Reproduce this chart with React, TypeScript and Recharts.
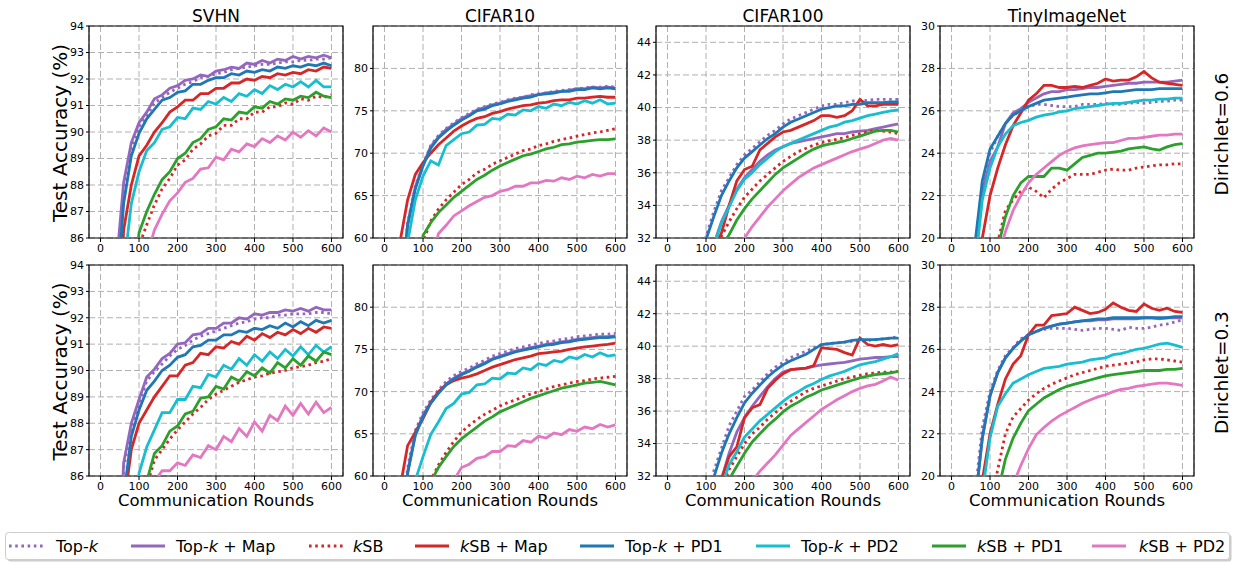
import React from 'react';
import { LineChart, Line, XAxis, YAxis, CartesianGrid, ReferenceArea } from 'recharts';

const FONT = '"DejaVu Sans", Verdana, sans-serif';

const rounds = [0, 20, 40, 60, 80, 100, 120, 140, 160, 180, 200, 220, 240, 260, 280, 300, 320, 340, 360, 380, 400, 420, 440, 460, 480, 500, 520, 540, 560, 580, 600];
const xTicks = [0, 100, 200, 300, 400, 500, 600];

// ---- Dirichlet = 0.6 ----
// SVHN
const s6_topk = [40, 60, 84.3, 87.8, 89.4, 90.2, 90.6, 91.1, 91.3, 91.5, 91.65, 91.8, 91.9, 92.05, 92.1, 92.2, 92.25, 92.35, 92.4, 92.45, 92.5, 92.55, 92.55, 92.6, 92.65, 92.65, 92.7, 92.7, 92.75, 92.75, 92.8];
const s6_topkMap = [40, 62, 84.8, 88.1, 89.6, 90.35, 90.75, 91.25, 91.4, 91.65, 91.75, 91.95, 92.0, 92.15, 92.1, 92.3, 92.35, 92.45, 92.4, 92.6, 92.55, 92.7, 92.6, 92.75, 92.7, 92.85, 92.75, 92.85, 92.8, 92.9, 92.8];
const s6_ksb = [40, 50, 70, 77.5, 82.5, 85.7, 86.5, 87.25, 87.85, 88.25, 88.75, 88.95, 89.35, 89.55, 89.85, 89.95, 90.25, 90.25, 90.5, 90.5, 90.75, 90.75, 90.95, 90.95, 91.1, 91.05, 91.25, 91.2, 91.35, 91.3, 91.4];
const s6_ksbMap = [40, 56, 80.5, 86.3, 88.0, 89.1, 89.5, 90.0, 90.35, 90.75, 90.95, 91.2, 91.2, 91.45, 91.45, 91.65, 91.65, 91.85, 91.85, 92.0, 91.95, 92.1, 92.05, 92.2, 92.15, 92.25, 92.2, 92.35, 92.3, 92.45, 92.4];
const s6_topkPd1 = [40, 58, 83.5, 87.3, 89.1, 89.95, 90.5, 90.85, 91.2, 91.3, 91.5, 91.55, 91.8, 91.8, 91.95, 92.05, 92.05, 92.2, 92.15, 92.3, 92.25, 92.35, 92.3, 92.45, 92.4, 92.5, 92.45, 92.55, 92.5, 92.6, 92.5];
const s6_topkPd2 = [40, 55, 78, 84.8, 87.3, 88.5, 89.3, 89.6, 90.1, 90.2, 90.55, 90.5, 90.9, 90.85, 91.15, 91.05, 91.3, 91.15, 91.45, 91.35, 91.6, 91.45, 91.75, 91.6, 91.8, 91.7, 91.9, 91.7, 91.95, 91.7, 91.7];
const s6_ksbPd1 = [40, 50, 70, 78, 83.5, 86.2, 87.0, 87.65, 88.2, 88.5, 89.0, 89.2, 89.6, 89.75, 90.1, 90.2, 90.5, 90.45, 90.75, 90.7, 90.95, 90.9, 91.15, 91.05, 91.25, 91.2, 91.35, 91.3, 91.5, 91.35, 91.3];
const s6_ksbPd2 = [40, 48, 65, 75, 80, 83, 85.3, 86.3, 86.9, 87.4, 87.7, 88.1, 88.25, 88.6, 88.65, 89.05, 88.95, 89.35, 89.25, 89.55, 89.45, 89.75, 89.6, 89.85, 89.7, 90.0, 89.8, 90.05, 89.85, 90.15, 90.0];

// CIFAR10
const c6_topk = [20, 35, 52, 61.8, 66.1, 68.7, 70.9, 72.1, 72.9, 73.6, 74.2, 74.7, 75.2, 75.5, 75.8, 76.0, 76.3, 76.5, 76.6, 76.9, 77.0, 77.1, 77.3, 77.4, 77.5, 77.6, 77.7, 77.8, 77.8, 77.9, 77.8];
const c6_topkMap = [20, 35, 52, 61.6, 66.0, 68.6, 70.8, 71.9, 72.8, 73.4, 74.1, 74.5, 75.1, 75.4, 75.7, 75.9, 76.2, 76.4, 76.6, 76.8, 76.9, 77.1, 77.2, 77.3, 77.4, 77.6, 77.6, 77.8, 77.7, 77.8, 77.7];
const c6_ksb = [20, 30, 40, 48, 54, 59.5, 62.0, 63.4, 64.5, 65.4, 66.3, 66.9, 67.7, 68.1, 68.7, 69.1, 69.5, 69.9, 70.3, 70.5, 70.9, 71.1, 71.4, 71.6, 71.8, 72.0, 72.2, 72.4, 72.5, 72.7, 72.9];
const c6_ksbMap = [20, 40, 59.5, 64.5, 67.5, 68.9, 70.0, 71.0, 71.8, 72.6, 73.2, 73.7, 74.1, 74.3, 74.7, 74.9, 75.2, 75.4, 75.6, 75.7, 75.9, 76.0, 76.2, 76.3, 76.3, 76.5, 76.5, 76.6, 76.7, 76.6, 76.6];
const c6_topkPd1 = [20, 35, 52, 61.5, 65.8, 68.5, 70.6, 71.8, 72.6, 73.3, 73.9, 74.4, 75.0, 75.2, 75.6, 75.8, 76.1, 76.3, 76.5, 76.6, 76.9, 77.0, 77.1, 77.3, 77.3, 77.5, 77.5, 77.7, 77.6, 77.7, 77.6];
const c6_topkPd2 = [20, 32, 48, 59.5, 64.5, 67.3, 69.1, 68.6, 70.9, 71.6, 72.3, 72.5, 73.3, 73.4, 74.1, 74.0, 74.6, 74.5, 75.1, 75.0, 75.5, 75.3, 75.8, 75.6, 76.0, 75.8, 76.2, 75.9, 76.3, 75.8, 75.9];
const c6_ksbPd1 = [20, 30, 40, 47, 53, 60.3, 61.8, 63.0, 63.9, 64.8, 65.5, 66.2, 66.9, 67.4, 68.0, 68.5, 68.9, 69.3, 69.7, 69.9, 70.2, 70.5, 70.7, 71.0, 71.1, 71.3, 71.4, 71.5, 71.6, 71.6, 71.7];
const c6_ksbPd2 = [20, 28, 36, 43, 48, 53, 57, 60.5, 61.5, 62.6, 63.2, 63.8, 64.3, 64.8, 65.0, 65.5, 65.7, 66.1, 66.1, 66.5, 66.5, 66.8, 66.7, 67.1, 66.9, 67.3, 67.1, 67.5, 67.3, 67.6, 67.6];

// CIFAR100
const h6_topk = [15, 20, 25, 28, 30.2, 32.1, 33.6, 34.9, 35.7, 36.5, 37.1, 37.5, 37.9, 38.3, 38.6, 39.0, 39.3, 39.5, 39.7, 39.9, 40.1, 40.2, 40.2, 40.3, 40.4, 40.4, 40.45, 40.5, 40.5, 40.5, 40.5];
const h6_topkMap = [15, 20, 24, 27, 29, 30.5, 31.6, 33.0, 34.0, 35.0, 35.7, 36.2, 36.7, 37.1, 37.4, 37.6, 37.8, 37.9, 38.0, 38.1, 38.2, 38.3, 38.4, 38.4, 38.5, 38.55, 38.6, 38.7, 38.8, 38.9, 39.0];
const h6_ksb = [15, 20, 24, 27, 29, 30, 31, 32.1, 33.0, 33.8, 34.5, 35.0, 35.5, 35.9, 36.3, 36.7, 37.0, 37.3, 37.5, 37.7, 37.85, 37.95, 38.05, 38.15, 38.3, 38.4, 38.5, 38.6, 38.55, 38.5, 38.4];
const h6_ksbMap = [15, 20, 24, 27, 29, 30.5, 31.4, 32.3, 34.0, 35.5, 36.2, 36.4, 37.4, 37.8, 38.2, 38.5, 38.6, 38.8, 39.0, 39.2, 39.5, 39.5, 39.4, 39.5, 39.8, 40.5, 40.1, 40.1, 40.2, 40.2, 40.2];
const h6_topkPd1 = [15, 20, 25, 28, 30, 31.9, 33.3, 34.6, 35.5, 36.3, 36.9, 37.3, 37.7, 38.1, 38.4, 38.8, 39.1, 39.3, 39.5, 39.7, 39.9, 40.0, 40.1, 40.1, 40.2, 40.2, 40.3, 40.3, 40.3, 40.35, 40.35];
const h6_topkPd2 = [15, 20, 24, 27, 29, 30.5, 31.5, 32.9, 33.9, 34.9, 35.6, 36.0, 36.5, 36.9, 37.3, 37.6, 37.8, 38.0, 38.2, 38.4, 38.6, 38.8, 38.9, 39.1, 39.2, 39.35, 39.5, 39.6, 39.7, 39.8, 39.85];
const h6_ksbPd1 = [15, 20, 24, 27, 28.5, 29.5, 30.5, 31.5, 32.2, 33.1, 33.8, 34.4, 34.9, 35.4, 35.9, 36.3, 36.6, 36.9, 37.2, 37.45, 37.65, 37.75, 37.85, 37.95, 38.1, 38.25, 38.4, 38.55, 38.6, 38.6, 38.5];
const h6_ksbPd2 = [15, 18, 22, 25, 27, 28, 29, 30, 30.8, 31.4, 32.0, 32.7, 33.3, 33.9, 34.4, 34.9, 35.3, 35.7, 36.0, 36.3, 36.5, 36.7, 36.9, 37.1, 37.3, 37.45, 37.6, 37.8, 38.0, 38.1, 38.0];

// TinyImageNet
const t6_topk = [5, 10, 14, 19.2, 22.6, 24.0, 24.8, 25.4, 25.8, 26.0, 26.2, 26.3, 26.3, 26.25, 26.2, 26.2, 26.2, 26.3, 26.3, 26.3, 26.35, 26.3, 26.3, 26.35, 26.4, 26.35, 26.4, 26.45, 26.45, 26.5, 26.5];
const t6_topkMap = [5, 10, 14, 19.3, 22.2, 23.6, 24.3, 25.4, 25.9, 26.1, 26.4, 26.6, 26.8, 26.9, 26.9, 27.0, 27.0, 27.05, 27.1, 27.1, 27.15, 27.2, 27.25, 27.3, 27.3, 27.35, 27.35, 27.35, 27.35, 27.4, 27.45];
const t6_ksb = [5, 8, 11, 14, 16, 18, 19.8, 21.3, 21.8, 22.2, 22.4, 22.2, 21.9, 22.3, 22.6, 22.8, 23.0, 23.0, 23.0, 23.1, 23.2, 23.25, 23.2, 23.2, 23.3, 23.35, 23.4, 23.45, 23.45, 23.5, 23.5];
const t6_ksbMap = [5, 10, 14, 17, 20.0, 22.0, 23.3, 24.4, 25.3, 25.9, 26.5, 26.8, 27.2, 27.2, 27.1, 27.1, 27.15, 27.1, 27.2, 27.3, 27.5, 27.4, 27.45, 27.45, 27.6, 27.85, 27.55, 27.35, 27.3, 27.25, 27.2];
const t6_topkPd1 = [5, 10, 14, 19.6, 22.7, 24.2, 24.8, 25.4, 25.8, 26.0, 26.2, 26.35, 26.5, 26.55, 26.6, 26.65, 26.7, 26.75, 26.8, 26.8, 26.85, 26.9, 26.9, 26.95, 27.0, 27.0, 27.0, 27.05, 27.05, 27.05, 27.05];
const t6_topkPd2 = [5, 10, 14, 18.5, 21.8, 23.3, 24.3, 24.9, 25.3, 25.45, 25.55, 25.7, 25.8, 25.85, 25.95, 26.0, 26.1, 26.15, 26.2, 26.25, 26.3, 26.35, 26.35, 26.4, 26.45, 26.5, 26.5, 26.55, 26.55, 26.6, 26.6];
const t6_ksbPd1 = [5, 8, 11, 14, 16, 18, 19.5, 21.0, 22.0, 22.6, 22.9, 22.9, 22.9, 23.3, 23.3, 23.2, 23.5, 23.8, 23.9, 24.0, 24.0, 24.05, 24.1, 24.2, 24.25, 24.3, 24.2, 24.15, 24.3, 24.4, 24.45];
const t6_ksbPd2 = [5, 8, 11, 14, 16, 17.5, 19, 20.3, 21.3, 22.0, 22.6, 23.0, 23.3, 23.6, 23.9, 24.1, 24.25, 24.35, 24.4, 24.45, 24.5, 24.5, 24.6, 24.7, 24.7, 24.75, 24.8, 24.85, 24.85, 24.9, 24.9];

// ---- Dirichlet = 0.3 ----
// SVHN
const s3_topk = [40, 54, 79, 86.3, 87.8, 88.75, 89.6, 89.95, 90.25, 90.55, 90.8, 90.95, 91.15, 91.3, 91.4, 91.5, 91.6, 91.7, 91.8, 91.85, 91.95, 92.0, 92.0, 92.1, 92.1, 92.15, 92.15, 92.15, 92.2, 92.2, 92.15];
const s3_topkMap = [40, 55, 80, 86.5, 88.0, 88.9, 89.75, 90.05, 90.45, 90.65, 91.0, 91.05, 91.35, 91.4, 91.6, 91.6, 91.8, 91.8, 92.0, 91.95, 92.15, 92.1, 92.2, 92.2, 92.3, 92.25, 92.35, 92.25, 92.4, 92.3, 92.3];
const s3_ksb = [40, 50, 65, 74, 79, 82.5, 85.6, 86.6, 87.0, 87.4, 87.75, 88.05, 88.35, 88.6, 88.9, 89.1, 89.25, 89.4, 89.55, 89.65, 89.75, 89.8, 89.9, 89.95, 90.0, 90.1, 90.15, 90.2, 90.3, 90.35, 90.45];
const s3_ksbMap = [40, 52, 76, 84.8, 87.0, 88.0, 88.5, 89.0, 89.4, 89.8, 89.8, 90.2, 90.3, 90.65, 90.6, 90.9, 90.85, 91.1, 91.0, 91.3, 91.15, 91.4, 91.25, 91.45, 91.35, 91.55, 91.4, 91.6, 91.45, 91.65, 91.6];
const s3_topkPd1 = [40, 54, 78, 85.2, 87.5, 88.5, 89.25, 89.6, 90.0, 90.2, 90.5, 90.6, 90.9, 90.95, 91.15, 91.15, 91.35, 91.35, 91.5, 91.45, 91.6, 91.55, 91.7, 91.6, 91.8, 91.65, 91.85, 91.7, 91.9, 91.8, 91.9];
const s3_topkPd2 = [40, 50, 70, 78, 82, 86.1, 87.1, 87.75, 88.4, 88.4, 88.9, 88.9, 89.4, 89.35, 89.85, 89.75, 90.2, 90.05, 90.45, 90.2, 90.6, 90.35, 90.7, 90.45, 90.8, 90.55, 90.9, 90.6, 90.95, 90.7, 90.9];
const s3_ksbPd1 = [40, 50, 65, 74, 79, 82.5, 85.8, 86.85, 87.15, 87.7, 87.9, 88.35, 88.45, 88.95, 89.0, 89.4, 89.3, 89.75, 89.6, 89.95, 89.8, 90.1, 89.9, 90.3, 90.1, 90.45, 90.2, 90.55, 90.35, 90.7, 90.6];
const s3_ksbPd2 = [40, 48, 60, 70, 76, 80, 84, 85.8, 86.2, 86.2, 86.5, 86.4, 86.8, 86.7, 87.15, 87.0, 87.5, 87.3, 87.8, 87.5, 88.05, 87.7, 88.3, 88.1, 88.65, 88.3, 88.75, 88.35, 88.8, 88.4, 88.6];

// CIFAR10
const c3_topk = [20, 34, 51, 61, 65.4, 67.5, 69.0, 70.2, 71.2, 71.9, 72.4, 72.8, 73.3, 73.7, 74.2, 74.5, 74.8, 75.1, 75.3, 75.5, 75.7, 75.9, 76.0, 76.2, 76.3, 76.5, 76.6, 76.7, 76.8, 76.8, 76.9];
const c3_topkMap = [20, 33, 50, 60.5, 65.0, 67.2, 68.7, 69.9, 70.9, 71.6, 72.1, 72.5, 73.0, 73.4, 73.9, 74.2, 74.5, 74.8, 75.0, 75.2, 75.4, 75.6, 75.7, 75.9, 76.0, 76.2, 76.3, 76.4, 76.5, 76.5, 76.6];
const c3_ksb = [20, 28, 36, 44, 50, 55, 59.5, 61.3, 62.8, 64.1, 65.2, 66.0, 66.7, 67.3, 67.8, 68.3, 68.7, 69.0, 69.4, 69.7, 70.0, 70.3, 70.6, 70.8, 71.0, 71.2, 71.3, 71.5, 71.6, 71.7, 71.8];
const c3_ksbMap = [20, 38, 58.5, 63.6, 65.2, 66.8, 68.7, 70.0, 70.8, 71.3, 71.6, 71.8, 72.1, 72.5, 72.9, 73.2, 73.5, 73.8, 74.0, 74.2, 74.5, 74.6, 74.7, 74.8, 75.0, 75.15, 75.3, 75.4, 75.5, 75.6, 75.75];
const c3_topkPd1 = [20, 33, 50, 60.3, 64.8, 67.0, 68.6, 69.8, 70.8, 71.5, 72.0, 72.4, 72.9, 73.3, 73.8, 74.1, 74.4, 74.7, 74.9, 75.1, 75.3, 75.5, 75.6, 75.8, 75.9, 76.1, 76.2, 76.3, 76.4, 76.4, 76.5];
const c3_topkPd2 = [20, 30, 45, 54, 59.5, 62.3, 64.9, 66.4, 68.0, 68.6, 69.7, 69.9, 70.8, 70.9, 71.6, 71.5, 72.2, 72.1, 72.8, 72.6, 73.3, 73.1, 73.7, 73.5, 74.1, 73.9, 74.4, 74.1, 74.6, 74.2, 74.35];
const c3_ksbPd1 = [20, 28, 36, 43, 49, 54, 59.3, 61.0, 62.3, 63.5, 64.4, 65.1, 65.8, 66.5, 67.0, 67.6, 68.0, 68.4, 68.8, 69.2, 69.5, 69.8, 70.1, 70.4, 70.6, 70.8, 71.0, 71.1, 71.2, 71.0, 70.8];
const c3_ksbPd2 = [20, 26, 32, 38, 43, 47, 51, 54, 57, 59.5, 61.0, 61.4, 62.1, 62.3, 62.9, 62.9, 63.6, 63.5, 64.2, 64.0, 64.7, 64.5, 65.1, 64.9, 65.5, 65.3, 65.8, 65.6, 66.1, 65.8, 66.05];

// CIFAR100
const h3_topk = [15, 20, 25, 28, 29.5, 30.5, 32.3, 33.7, 35.1, 36.0, 36.9, 37.3, 37.8, 38.3, 38.7, 39.0, 39.3, 39.5, 39.7, 39.9, 40.1, 40.15, 40.2, 40.25, 40.3, 40.3, 40.35, 40.4, 40.45, 40.5, 40.6];
const h3_topkMap = [15, 20, 24, 27, 28.5, 29.5, 30.6, 31.8, 33.4, 34.7, 35.6, 36.3, 36.9, 37.5, 38.0, 38.4, 38.55, 38.6, 38.65, 38.75, 38.85, 38.9, 38.95, 39.0, 39.1, 39.2, 39.25, 39.3, 39.3, 39.35, 39.35];
const h3_ksb = [15, 20, 24, 27, 28, 29, 30, 31.2, 32.4, 33.2, 34.0, 34.6, 35.0, 35.5, 35.9, 36.3, 36.6, 36.9, 37.2, 37.4, 37.55, 37.7, 37.85, 38.0, 38.1, 38.2, 38.3, 38.35, 38.4, 38.4, 38.45];
const h3_ksbMap = [15, 20, 24, 27, 28.5, 29.5, 30.5, 31.8, 33.2, 33.8, 35.6, 36.2, 36.4, 37.4, 37.9, 38.3, 38.55, 38.6, 38.65, 38.8, 39.9, 39.85, 39.8, 39.6, 39.45, 40.5, 40.1, 40.0, 40.1, 40.0, 40.1];
const h3_topkPd1 = [15, 20, 25, 28, 29.3, 30.3, 31.9, 33.4, 34.6, 35.6, 36.5, 37.1, 37.6, 38.1, 38.5, 38.85, 39.1, 39.3, 39.5, 39.8, 40.1, 40.15, 40.2, 40.25, 40.35, 40.4, 40.4, 40.4, 40.45, 40.5, 40.5];
const h3_topkPd2 = [15, 20, 24, 27, 28, 29, 30, 31.3, 32.7, 33.5, 34.4, 34.9, 35.4, 35.8, 36.2, 36.6, 36.95, 37.2, 37.5, 37.7, 37.95, 38.15, 38.3, 38.45, 38.65, 38.85, 38.95, 39.05, 39.2, 39.35, 39.55];
const h3_ksbPd1 = [15, 20, 23, 26, 27.5, 28.5, 29.5, 30.8, 31.8, 32.6, 33.4, 34.1, 34.6, 35.1, 35.5, 35.95, 36.3, 36.55, 36.85, 37.05, 37.3, 37.45, 37.6, 37.75, 37.9, 38.05, 38.15, 38.25, 38.3, 38.35, 38.45];
const h3_ksbPd2 = [15, 18, 21, 24, 26, 27, 28, 28.8, 29.5, 30.2, 30.8, 31.7, 32.3, 32.8, 33.3, 33.9, 34.5, 34.9, 35.3, 35.7, 36.1, 36.4, 36.7, 36.95, 37.2, 37.4, 37.55, 37.65, 37.85, 38.1, 37.9];

// TinyImageNet
const t3_topk = [5, 10, 14, 19.0, 22.3, 24.0, 25.0, 25.7, 26.1, 26.5, 26.7, 26.85, 26.95, 27.0, 27.0, 27.0, 26.95, 26.9, 26.95, 27.0, 27.0, 26.95, 26.9, 27.05, 27.0, 27.0, 27.05, 27.15, 27.2, 27.3, 27.4];
const t3_topkMap = [5, 10, 14, 18.5, 21.8, 23.8, 24.9, 25.6, 26.05, 26.4, 26.7, 26.85, 27.0, 27.1, 27.2, 27.25, 27.3, 27.35, 27.35, 27.4, 27.4, 27.45, 27.45, 27.45, 27.45, 27.5, 27.5, 27.45, 27.5, 27.5, 27.5];
const t3_ksb = [5, 8, 11, 14, 16.5, 18.5, 20.3, 22.0, 22.8, 23.2, 23.6, 23.9, 24.15, 24.35, 24.5, 24.65, 24.8, 24.9, 25.0, 25.1, 25.2, 25.25, 25.3, 25.35, 25.4, 25.5, 25.55, 25.55, 25.5, 25.45, 25.4];
const t3_ksbMap = [5, 10, 14, 16.5, 19.8, 22.0, 23.4, 24.6, 25.3, 25.7, 26.7, 27.15, 27.15, 27.6, 27.65, 27.7, 28.0, 27.85, 27.7, 27.75, 27.9, 28.2, 28.0, 27.85, 27.8, 28.15, 27.95, 27.85, 27.95, 27.8, 27.75];
const t3_topkPd1 = [5, 10, 14, 18.5, 21.8, 23.8, 24.9, 25.6, 26.05, 26.4, 26.7, 26.85, 27.0, 27.1, 27.2, 27.25, 27.3, 27.35, 27.4, 27.45, 27.45, 27.5, 27.5, 27.5, 27.5, 27.5, 27.5, 27.5, 27.5, 27.55, 27.55];
const t3_topkPd2 = [5, 10, 14, 17, 19.2, 21.8, 23.3, 23.9, 24.4, 24.6, 24.8, 24.95, 25.1, 25.15, 25.2, 25.3, 25.35, 25.4, 25.5, 25.55, 25.6, 25.75, 25.8, 25.9, 26.0, 26.05, 26.15, 26.25, 26.3, 26.2, 26.1];
const t3_ksbPd1 = [5, 8, 11, 14, 16, 17.5, 19.2, 20.8, 21.8, 22.5, 23.1, 23.4, 23.7, 23.9, 24.1, 24.25, 24.35, 24.45, 24.55, 24.65, 24.75, 24.8, 24.85, 24.9, 24.95, 25.0, 25.0, 25.0, 25.05, 25.05, 25.1];
const t3_ksbPd2 = [5, 7, 9, 11, 13, 15, 16.5, 18, 19.6, 20.5, 21.3, 21.95, 22.3, 22.6, 22.85, 23.05, 23.25, 23.45, 23.6, 23.75, 23.85, 24.0, 24.1, 24.15, 24.25, 24.3, 24.35, 24.4, 24.4, 24.35, 24.3];

const DOTS = '2.6 3.6';

const SERIES = [
  { key: 'topk', color: '#9467bd', dash: DOTS },
  { key: 'topkMap', color: '#9467bd' },
  { key: 'ksb', color: '#d62728', dash: DOTS },
  { key: 'ksbMap', color: '#d62728' },
  { key: 'topkPd1', color: '#1f77b4' },
  { key: 'topkPd2', color: '#17becf' },
  { key: 'ksbPd1', color: '#2ca02c' },
  { key: 'ksbPd2', color: '#e377c2' },
];

const buildRows = (cols: number[][]) =>
  rounds.map((r, i) => {
    const row: Record<string, number> = { round: r };
    SERIES.forEach((s, j) => {
      row[s.key] = cols[j][i];
    });
    return row;
  });

const svhnTicks = [86, 87, 88, 89, 90, 91, 92, 93, 94];
const c10Ticks = [60, 65, 70, 75, 80];
const c100Ticks = [32, 34, 36, 38, 40, 42, 44];
const tinyTicks = [20, 22, 24, 26, 28, 30];

const COL_LEFT = [89, 373, 656, 940];
const ROW_TOP = [26, 265];
const ROW_H = [212, 211];
const PLOT_W = 254;

const panels = [
  { col: 0, row: 0, domain: [86, 94], ticks: svhnTicks, data: buildRows([s6_topk, s6_topkMap, s6_ksb, s6_ksbMap, s6_topkPd1, s6_topkPd2, s6_ksbPd1, s6_ksbPd2]) },
  { col: 1, row: 0, domain: [60, 85], ticks: c10Ticks, data: buildRows([c6_topk, c6_topkMap, c6_ksb, c6_ksbMap, c6_topkPd1, c6_topkPd2, c6_ksbPd1, c6_ksbPd2]) },
  { col: 2, row: 0, domain: [32, 45], ticks: c100Ticks, data: buildRows([h6_topk, h6_topkMap, h6_ksb, h6_ksbMap, h6_topkPd1, h6_topkPd2, h6_ksbPd1, h6_ksbPd2]) },
  { col: 3, row: 0, domain: [20, 30], ticks: tinyTicks, data: buildRows([t6_topk, t6_topkMap, t6_ksb, t6_ksbMap, t6_topkPd1, t6_topkPd2, t6_ksbPd1, t6_ksbPd2]) },
  { col: 0, row: 1, domain: [86, 94], ticks: svhnTicks, data: buildRows([s3_topk, s3_topkMap, s3_ksb, s3_ksbMap, s3_topkPd1, s3_topkPd2, s3_ksbPd1, s3_ksbPd2]) },
  { col: 1, row: 1, domain: [60, 85], ticks: c10Ticks, data: buildRows([c3_topk, c3_topkMap, c3_ksb, c3_ksbMap, c3_topkPd1, c3_topkPd2, c3_ksbPd1, c3_ksbPd2]) },
  { col: 2, row: 1, domain: [32, 45], ticks: c100Ticks, data: buildRows([h3_topk, h3_topkMap, h3_ksb, h3_ksbMap, h3_topkPd1, h3_topkPd2, h3_ksbPd1, h3_ksbPd2]) },
  { col: 3, row: 1, domain: [20, 30], ticks: tinyTicks, data: buildRows([t3_topk, t3_topkMap, t3_ksb, t3_ksbMap, t3_topkPd1, t3_topkPd2, t3_ksbPd1, t3_ksbPd2]) },
];

const titles = ['SVHN', 'CIFAR10', 'CIFAR100', 'TinyImageNet'];
const rowLabels = ['Dirichlet=0.6', 'Dirichlet=0.3'];

const legendItems = [
  { label: 'Top-', italicK: 'suffix', rest: '', color: '#9467bd', dash: DOTS, x: 9, tx: 56 },
  { label: 'Top-', italicK: 'suffix', rest: ' + Map', color: '#9467bd', x: 131, tx: 176 },
  { label: '', italicK: 'prefix', rest: 'SB', color: '#d62728', dash: DOTS, x: 309, tx: 353 },
  { label: '', italicK: 'prefix', rest: 'SB + Map', color: '#d62728', x: 415, tx: 460 },
  { label: 'Top-', italicK: 'suffix', rest: ' + PD1', color: '#1f77b4', x: 580, tx: 625 },
  { label: 'Top-', italicK: 'suffix', rest: ' + PD2', color: '#17becf', x: 756, tx: 801 },
  { label: '', italicK: 'prefix', rest: 'SB + PD1', color: '#2ca02c', x: 932, tx: 977 },
  { label: '', italicK: 'prefix', rest: 'SB + PD2', color: '#e377c2', x: 1092, tx: 1139 },
];

const YW = 45;
const MT = 10;
const MR = 10;
const XH = 30;

const tickStyle = { fill: '#000', fontSize: 11, fontFamily: FONT };

function Panel({ p }: { p: (typeof panels)[number] }) {
  const h = ROW_H[p.row];
  return (
    <div style={{ position: 'absolute', left: COL_LEFT[p.col] - YW, top: ROW_TOP[p.row] - MT }}>
      <LineChart
        width={PLOT_W + YW + MR}
        height={h + MT + XH}
        data={p.data}
        margin={{ top: MT, right: MR, left: 0, bottom: 0 }}
      >
        <CartesianGrid stroke="#b0b0b0" strokeDasharray="6 3" strokeWidth={1} />
        <XAxis
          dataKey="round"
          type="number"
          domain={[-30, 630]}
          ticks={xTicks}
          interval={0}
          allowDataOverflow
          height={XH}
          axisLine={false}
          tickSize={4}
          tickMargin={2}
          tickLine={{ stroke: '#000' }}
          tick={tickStyle}
        />
        <YAxis
          type="number"
          domain={p.domain}
          ticks={p.ticks}
          interval={0}
          allowDataOverflow
          width={YW}
          axisLine={false}
          tickSize={3}
          tickMargin={2}
          tickLine={{ stroke: '#000' }}
          tick={tickStyle}
        />
        {SERIES.map((s) => (
          <Line
            key={s.key}
            type="linear"
            dataKey={s.key}
            stroke={s.color}
            strokeWidth={2.8}
            strokeDasharray={s.dash}
            dot={false}
            activeDot={false}
            isAnimationActive={false}
          />
        ))}
        <ReferenceArea
          x1={-30}
          x2={630}
          y1={p.domain[0]}
          y2={p.domain[1]}
          fill="none"
          stroke="#000"
          strokeWidth={1.2}
          ifOverflow="visible"
        />
      </LineChart>
    </div>
  );
}

export default function App() {
  const centers = COL_LEFT.map((l) => l + PLOT_W / 2);
  const rowMid = ROW_TOP.map((t, i) => t + ROW_H[i] / 2);
  return (
    <div
      style={{
        position: 'absolute',
        left: 0,
        top: 0,
        width: 1235,
        height: 563,
        background: '#fff',
        overflow: 'hidden',
        fontFamily: FONT,
      }}
    >
      {panels.map((p, i) => (
        <Panel key={i} p={p} />
      ))}
      <svg
        width={1235}
        height={563}
        style={{ position: 'absolute', left: 0, top: 0, pointerEvents: 'none' }}
        fontFamily={FONT}
      >
        {titles.map((t, i) => (
          <text key={t} x={centers[i]} y={22} textAnchor="middle" fontSize={17} fill="#000">
            {t}
          </text>
        ))}
        {centers.map((c, i) => (
          <text key={'xl' + i} x={c} y={506} textAnchor="middle" fontSize={16.5} fill="#000">
            Communication Rounds
          </text>
        ))}
        {rowMid.map((m, i) => (
          <text
            key={'yl' + i}
            x={60}
            y={m + 1}
            textAnchor="middle"
            dominantBaseline="central"
            fontSize={20}
            fill="#000"
            transform={`rotate(-90 60 ${m + 1})`}
          >
            Test Accuracy (%)
          </text>
        ))}
        {rowMid.map((m, i) => (
          <text
            key={'rl' + i}
            x={1221}
            y={m + 2}
            textAnchor="middle"
            dominantBaseline="central"
            fontSize={18.5}
            fill="#000"
            transform={`rotate(-90 1221 ${m + 2})`}
          >
            {rowLabels[i]}
          </text>
        ))}
        <rect x={7.5} y={534.5} width={1224} height={27} rx={3} fill="#999" opacity={0.5} />
        <rect x={5.5} y={532.5} width={1224} height={27} rx={3} fill="#fff" stroke="#cccccc" strokeWidth={1} />
        {legendItems.map((it, i) => (
          <g key={'lg' + i}>
            <line
              x1={it.x}
              x2={it.x + 34}
              y1={546}
              y2={546}
              stroke={it.color}
              strokeWidth={2.8}
              strokeDasharray={it.dash}
            />
            <text x={it.tx} y={551.5} fontSize={16} fill="#000">
              {it.italicK === 'prefix' ? (
                <>
                  <tspan fontStyle="italic">k</tspan>
                  {it.rest}
                </>
              ) : (
                <>
                  {it.label}
                  <tspan fontStyle="italic">k</tspan>
                  {it.rest}
                </>
              )}
            </text>
          </g>
        ))}
      </svg>
    </div>
  );
}
